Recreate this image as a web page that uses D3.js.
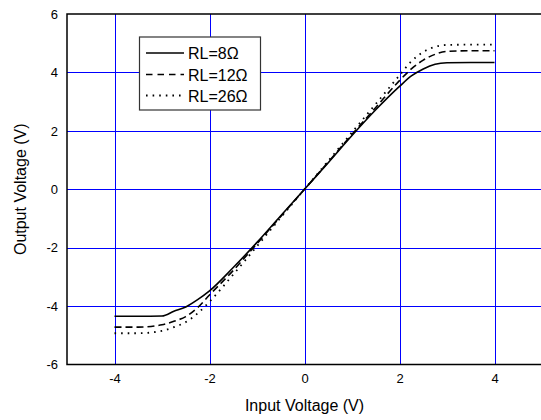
<!DOCTYPE html>
<html>
<head>
<meta charset="utf-8">
<script src="https://cdn.jsdelivr.net/npm/d3@7"></script>
<style>
  body { margin: 0; background: #fff; }
  svg { display: block; font-family: Arial, "Liberation Sans", sans-serif; }
</style>
</head>
<body>
<div id="chart"></div>
<script>
// input voltage samples (V)
const inputV = [-4, -3.5, -3, -2.75, -2.5, -2.25, -2, -1.5, -1, -0.5, 0, 0.5, 1, 1.5, 2, 2.25, 2.5, 2.75, 3, 3.5, 4];

// output voltage per load (V)
const out8 = [-4.35, -4.35, -4.34, -4.18, -4.03, -3.78, -3.48, -2.68, -1.82, -0.91, 0, 0.91, 1.84, 2.72, 3.52, 3.88, 4.12, 4.28, 4.33, 4.34, 4.34];
const out12 = [-4.72, -4.72, -4.64, -4.52, -4.36, -4.05, -3.62, -2.78, -1.86, -0.93, 0, 0.93, 1.88, 2.8, 3.72, 4.12, 4.42, 4.62, 4.72, 4.74, 4.74];
const out26 = [-4.93, -4.93, -4.85, -4.72, -4.55, -4.25, -3.85, -2.92, -1.95, -0.97, 0, 0.97, 1.95, 2.92, 3.9, 4.38, 4.7, 4.88, 4.94, 4.95, 4.95];

const seriesNames = ["RL=8\u03a9", "RL=12\u03a9", "RL=26\u03a9"];
const xTicks = [-4, -2, 0, 2, 4];
const yTicks = [-6, -4, -2, 0, 2, 4, 6];

const width = 541, height = 420;
const margin = {top: 14, right: -1, bottom: 55.5, left: 67};

const svg = d3.select("#chart").append("svg")
    .attr("width", width)
    .attr("height", height);

const x = d3.scaleLinear().domain([-5, 5]).range([margin.left, width - margin.right]);
const y = d3.scaleLinear().domain([-6, 6]).range([height - margin.bottom, margin.top]);

// blue grid
const grid = svg.append("g").attr("stroke", "#0000ff").attr("stroke-width", 1);
grid.selectAll(".vg").data(xTicks).enter().append("line")
    .attr("x1", d => Math.round(x(d)) + 0.5).attr("x2", d => Math.round(x(d)) + 0.5)
    .attr("y1", y(6)).attr("y2", y(-6));
grid.selectAll(".hg").data([-4, -2, 0, 2, 4]).enter().append("line")
    .attr("y1", d => Math.round(y(d)) + 0.5).attr("y2", d => Math.round(y(d)) + 0.5)
    .attr("x1", x(-5)).attr("x2", x(5));

// frame: top, left, bottom
const frame = svg.append("g").attr("stroke", "#000").attr("stroke-width", 1.5).attr("fill", "none");
frame.append("path")
    .attr("d", `M${x(5)},${y(6)}H${x(-5)}V${y(-6)}H${x(5)}`);

// axes (labels only), plain hyphen for negatives
const fmt = d => String(d);
const xAxis = svg.append("g")
    .attr("transform", `translate(0,${y(-6)})`)
    .call(d3.axisBottom(x).tickValues(xTicks).tickSize(0).tickPadding(9).tickFormat(fmt));
xAxis.select(".domain").remove();
xAxis.selectAll("text").attr("font-size", 13).attr("fill", "#000").attr("font-family", null);

const yAxis = svg.append("g")
    .attr("transform", `translate(${x(-5)},0)`)
    .call(d3.axisLeft(y).tickValues(yTicks).tickSize(0).tickPadding(9).tickFormat(fmt));
yAxis.select(".domain").remove();
yAxis.selectAll("text").attr("font-size", 13).attr("fill", "#000").attr("font-family", null);

// axis titles
svg.append("text")
    .attr("x", 304.5).attr("y", 411)
    .attr("text-anchor", "middle")
    .attr("font-size", 16)
    .text("Input Voltage (V)");

svg.append("text")
    .attr("transform", `translate(26,${y(0)}) rotate(-90)`)
    .attr("text-anchor", "middle")
    .attr("font-size", 16)
    .text("Output Voltage (V)");

// curves
const styles = [
    {dash: null, width: 1.6},
    {dash: "7,4", width: 1.6},
    {dash: "1.6,5", width: 1.8}
];
const seriesData = [out8, out12, out26].map(vals => vals.map((v, i) => [inputV[i], v]));

const line = d3.line()
    .x(d => x(d[0]))
    .y(d => y(d[1]))
    .curve(d3.curveMonotoneX);

svg.selectAll(".curve").data(seriesData).enter().append("path")
    .attr("class", "curve")
    .attr("fill", "none")
    .attr("stroke", "#000")
    .attr("stroke-width", (d, i) => styles[i].width)
    .attr("stroke-dasharray", (d, i) => styles[i].dash)
    .attr("d", line);

// legend
const legend = svg.append("g");
legend.append("rect")
    .attr("x", 139.5).attr("y", 37)
    .attr("width", 121).attr("height", 73)
    .attr("fill", "#fff")
    .attr("stroke", "#333")
    .attr("stroke-width", 1.2);

const rowY = [53, 74.5, 95.5];
seriesNames.forEach((name, i) => {
    legend.append("line")
        .attr("x1", 146).attr("x2", 184)
        .attr("y1", rowY[i]).attr("y2", rowY[i])
        .attr("stroke", "#000")
        .attr("stroke-width", styles[i].width)
        .attr("stroke-dasharray", i === 1 ? "6.5,5" : styles[i].dash);
    legend.append("text")
        .attr("x", 188).attr("y", rowY[i] + 6)
        .attr("font-size", 16)
        .text(name);
});
</script>
</body>
</html>
